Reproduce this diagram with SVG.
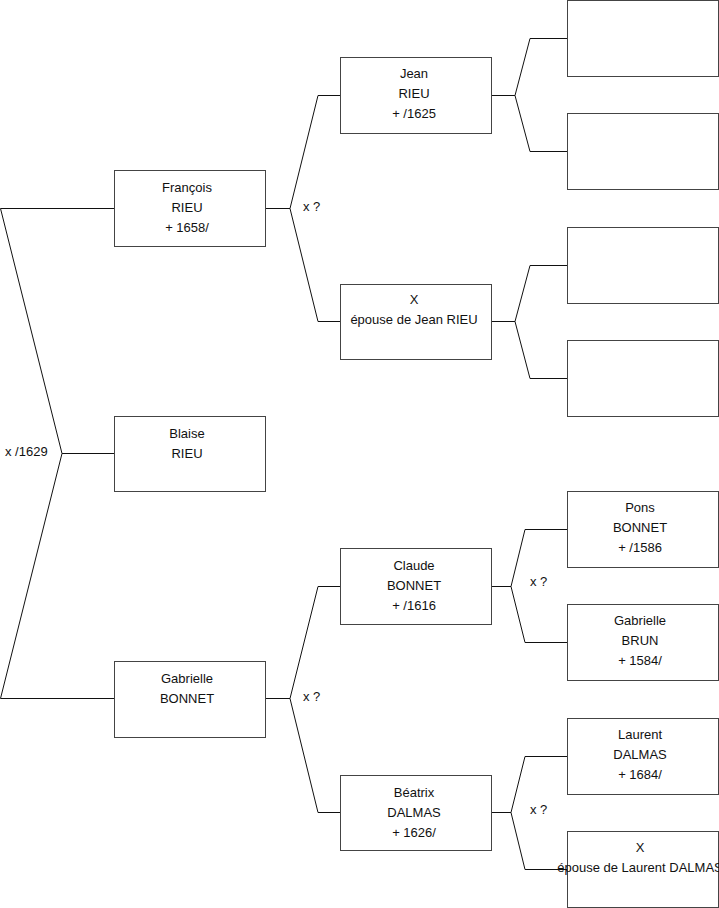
<svg xmlns="http://www.w3.org/2000/svg" width="719" height="908" viewBox="0 0 719 908">
<style>
.box{fill:#fff;stroke:#444;stroke-width:1}
.c{fill:none;stroke:#111;stroke-width:1}
text{font-family:"Liberation Sans",Arial,sans-serif;font-size:13px;fill:#111}
.m{text-anchor:middle}
</style>
<rect width="719" height="908" fill="#fff"/>
<g id="connectors">
<polyline class="c" points="114,208.5 0.5,208.5 62,453.5 0.5,698.5 114,698.5"/>
<line class="c" x1="62" y1="453.5" x2="114" y2="453.5"/>
<polyline class="c" points="265,208.5 290,208.5 318,95.5 340,95.5"/>
<polyline class="c" points="290,208.5 318,321.5 340,321.5"/>
<polyline class="c" points="265,698.5 290,698.5 318,586.5 340,586.5"/>
<polyline class="c" points="290,698.5 318,812.5 340,812.5"/>
<polyline class="c" points="491,95.5 515,95.5 530,38.5 567,38.5"/>
<polyline class="c" points="515,95.5 530,151.5 567,151.5"/>
<polyline class="c" points="491,321.5 515,321.5 530,265.5 567,265.5"/>
<polyline class="c" points="515,321.5 530,378.5 567,378.5"/>
<polyline class="c" points="491,586.5 511,586.5 525,529.5 567,529.5"/>
<polyline class="c" points="511,586.5 525,642.5 567,642.5"/>
<polyline class="c" points="491,812.5 511,812.5 525,756.5 567,756.5"/>
<polyline class="c" points="511,812.5 525,869.5 567,869.5"/>
<text x="5" y="456">x /1629</text>
<text x="303" y="211">x ?</text>
<text x="303" y="701">x ?</text>
<text x="530" y="586">x ?</text>
<text x="530" y="814">x ?</text>
</g>
<g id="francois"><rect class="box" x="114.5" y="170.5" width="151" height="76"/>
<text class="m" x="187" y="191.5">François</text><text class="m" x="187" y="211.5">RIEU</text><text class="m" x="187" y="231.5">+ 1658/</text></g>
<g id="blaise"><rect class="box" x="114.5" y="416.5" width="151" height="75"/>
<text class="m" x="187" y="438">Blaise</text><text class="m" x="187" y="458">RIEU</text></g>
<g id="gabrielle-bonnet"><rect class="box" x="114.5" y="661.5" width="151" height="76"/>
<text class="m" x="187" y="683">Gabrielle</text><text class="m" x="187" y="703">BONNET</text></g>
<g id="jean"><rect class="box" x="340.5" y="57.5" width="151" height="76"/>
<text class="m" x="414" y="78">Jean</text><text class="m" x="414" y="98">RIEU</text><text class="m" x="414" y="118">+ /1625</text></g>
<g id="x-epouse-jean"><rect class="box" x="340.5" y="284.5" width="151" height="75"/>
<text class="m" x="414" y="304">X</text><text class="m" x="414" y="324">épouse de Jean RIEU</text></g>
<g id="claude"><rect class="box" x="340.5" y="548.5" width="151" height="76"/>
<text class="m" x="414" y="569.5">Claude</text><text class="m" x="414" y="589.5">BONNET</text><text class="m" x="414" y="609.5">+ /1616</text></g>
<g id="beatrix"><rect class="box" x="340.5" y="775.5" width="151" height="75"/>
<text class="m" x="414" y="796.5">Béatrix</text><text class="m" x="414" y="816.5">DALMAS</text><text class="m" x="414" y="836.5">+ 1626/</text></g>
<g id="empty1"><rect class="box" x="567.5" y="0.5" width="151" height="76"/></g>
<g id="empty2"><rect class="box" x="567.5" y="113.5" width="151" height="76"/></g>
<g id="empty3"><rect class="box" x="567.5" y="227.5" width="151" height="76"/></g>
<g id="empty4"><rect class="box" x="567.5" y="340.5" width="151" height="76"/></g>
<g id="pons"><rect class="box" x="567.5" y="491.5" width="151" height="76"/>
<text class="m" x="640" y="512">Pons</text><text class="m" x="640" y="532">BONNET</text><text class="m" x="640" y="552">+ /1586</text></g>
<g id="gabrielle-brun"><rect class="box" x="567.5" y="604.5" width="151" height="76"/>
<text class="m" x="640" y="625">Gabrielle</text><text class="m" x="640" y="645">BRUN</text><text class="m" x="640" y="665">+ 1584/</text></g>
<g id="laurent"><rect class="box" x="567.5" y="718.5" width="151" height="76"/>
<text class="m" x="640" y="739">Laurent</text><text class="m" x="640" y="759">DALMAS</text><text class="m" x="640" y="779">+ 1684/</text></g>
<g id="x-epouse-laurent"><rect class="box" x="567.5" y="831.5" width="151" height="76"/>
<text class="m" x="640" y="852">X</text><text class="m" x="640" y="872">épouse de Laurent DALMAS</text></g>
</svg>
